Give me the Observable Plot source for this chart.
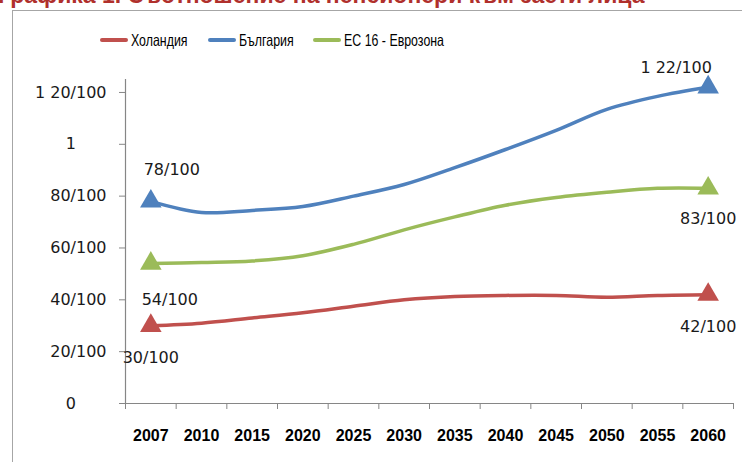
<!DOCTYPE html>
<html><head><meta charset="utf-8">
<script src="https://cdn.jsdelivr.net/npm/d3@7"></script>
<script src="https://cdn.jsdelivr.net/npm/@observablehq/plot@0.6"></script>
<style>
body{margin:0;width:742px;height:462px;overflow:hidden;position:relative;background:#fff;font-family:"DejaVu Sans",sans-serif}
#title{position:absolute;left:-2px;top:-18px;font:bold 23px "Liberation Sans",sans-serif;color:#B0302C;white-space:nowrap}
#frame{position:absolute;left:12px;top:10px;width:760px;height:480px;border:1.5px solid #a6a6a6}
#legend{position:absolute;left:0;top:30px;width:742px;height:20px;font:16.5px "Liberation Sans",sans-serif;color:#000}
.item{position:absolute;top:0;height:20px;display:flex;align-items:center;white-space:nowrap}
.sw{width:28px;height:4px;margin-right:3px;border-radius:2px}
.tx{display:inline-block;transform:scaleX(0.75);transform-origin:left center}
#chart{position:absolute;left:0;top:0}
</style></head><body>
<div id="title">Графика 1. Съотношение на пенсионери към заети лица</div>
<div id="frame"></div>
<div id="chart"></div>
<div id="legend"></div>
<script>
const years = ["2007","2010","2015","2020","2025","2030","2035","2040","2045","2050","2055","2060"];
const seriesNames = ["Холандия","България","ЕС 16 - Еврозона"];
const seriesColors = ["#C0504D","#4F81BD","#9BBB59"];
const netherlands = [0.30,0.31,0.33,0.35,0.375,0.40,0.413,0.417,0.417,0.41,0.417,0.42];
const bulgaria = [0.78,0.737,0.745,0.76,0.80,0.845,0.91,0.98,1.054,1.135,1.185,1.22];
const eurozone = [0.54,0.544,0.55,0.57,0.614,0.67,0.72,0.765,0.795,0.815,0.83,0.83];
const yTicks = [0,0.2,0.4,0.6,0.8,1,1.2];
const yTickLabels = ["0\u2007\u2007\u2007","20/100","40/100","60/100","80/100","1\u2007\u2007\u2007","1 20/100"];

const seriesValues = [netherlands, bulgaria, eurozone];
const rows = seriesNames.flatMap((s,k)=>seriesValues[k].map((v,i)=>({series:s,i,year:years[i],v})));
const last = years.length-1;
const endpoints = rows.filter(d=>d.i===0||d.i===last);
function frac(v){const n=Math.round(v*100);const w=Math.floor(n/100);const r=n%100;
  if(r===0) return String(w); if(w===0) return r+"/100"; return w+" "+r+"/100";}
const pick=(s,i)=>rows.filter(d=>d.series===s&&d.i===i);
const xPos = d=>d.i+0.5;
const boundaries = d3.range(years.length+1);
const centers = d3.range(years.length).map(i=>i+0.5);
const gray="#868686";
const lbl = {x:xPos,y:"v",text:d=>frac(d.v),fontSize:16,fontFamily:"DejaVu Sans",fill:"#1a1a1a"};

const plot = Plot.plot({
  width:742,height:462,
  marginLeft:125,marginRight:9,marginTop:79,marginBottom:59,
  style:{background:"transparent",fontFamily:"DejaVu Sans",overflow:"visible"},
  x:{type:"linear",domain:[0,years.length],label:null},
  y:{domain:[0,1.25],label:null},
  color:{domain:seriesNames,range:seriesColors},
  marks:[
    Plot.axisY({ticks:yTicks,tickFormat:d=>yTickLabels[yTicks.indexOf(d)],tickSize:6,tickPadding:13,stroke:gray,fill:"#1a1a1a",fontSize:16,fontFamily:"DejaVu Sans",label:null}),
    Plot.axisX({ticks:boundaries,tickFormat:()=>"",tickSize:6,stroke:gray,label:null}),
    Plot.axisX({ticks:centers,tickFormat:d=>years[Math.round(d-0.5)],tickSize:0,tickPadding:26,fontSize:16,fontWeight:"bold",fontFamily:"Liberation Sans",fill:"#000",label:null}),
    Plot.ruleX([0],{stroke:gray,strokeWidth:1.2}),
    Plot.ruleY([0],{stroke:gray,strokeWidth:1.2}),
    Plot.line(rows,{x:xPos,y:"v",z:"series",stroke:"series",strokeWidth:3.5,curve:"catmull-rom"}),
    Plot.dot(endpoints,{x:xPos,y:"v",fill:"series",symbol:"triangle",r:8}),
    Plot.text(pick("България",0),{...lbl,dx:21,dy:-31}),
    Plot.text(pick("България",last),{...lbl,dx:-32,dy:-19}),
    Plot.text(pick("ЕС 16 - Еврозона",0),{...lbl,dx:19,dy:36}),
    Plot.text(pick("ЕС 16 - Еврозона",last),{...lbl,dx:0,dy:31}),
    Plot.text(pick("Холандия",0),{...lbl,dx:0,dy:32}),
    Plot.text(pick("Холандия",last),{...lbl,dx:0,dy:32})
  ]
});
document.getElementById("chart").appendChild(plot);

const legendLeft = [100,208,313];
const legend = d3.select("#legend");
seriesNames.forEach((s,k)=>{
  const it = legend.append("div").attr("class","item").style("left",legendLeft[k]+"px");
  it.append("div").attr("class","sw").style("background",seriesColors[k]);
  it.append("span").attr("class","tx").text(s);
});
</script>
</body></html>
